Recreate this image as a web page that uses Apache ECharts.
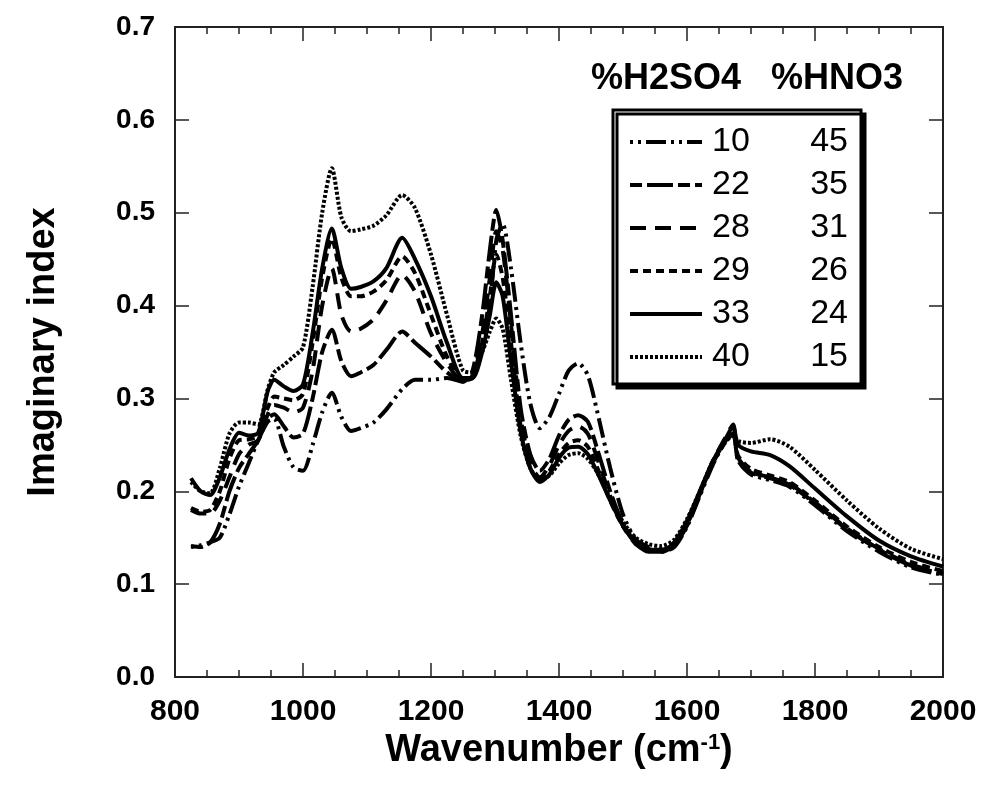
<!DOCTYPE html>
<html><head><meta charset="utf-8">
<script src="https://cdn.jsdelivr.net/npm/echarts@6/dist/echarts.min.js"></script>
<style>html,body{margin:0;padding:0;background:#fff}#c{width:982px;height:791px}</style>
</head><body><div id="c"></div>
<script>
const wavenumber = [825,840,855,870,885, 900,915,930,945,955, 970,985,1000,1015,1030, 1045,1060,1075,1090,1110, 1130,1155,1175,1200,1225, 1250,1265,1280,1292,1302, 1312,1325,1340,1355,1370, 1385,1400,1415,1430,1445, 1460,1480,1500,1520,1540, 1560,1580,1600,1620,1640, 1660,1672,1680,1700,1730, 1760,1800,1850,1900,1950, 2000];
const h2so4 = [10, 22, 28, 29, 33, 40];
const hno3 = [45, 35, 31, 26, 24, 15];
const k10 = [.14,.142,.145,.15,.175, .205,.23,.255,.275,.278, .248,.226,.222,.25,.285, .306,.28,.265,.268,.274, .288,.31,.32,.32,.322, .318,.325,.36,.4,.47, .488,.44,.36,.295,.268, .28,.305,.33,.338,.325, .285,.225,.175,.148,.14, .135,.14,.162,.195,.228, .254,.262,.233,.218,.212, .205,.185,.157,.135,.118, .11];
const k22 = [.141,.14,.145,.165,.2, .225,.24,.255,.278,.283, .27,.258,.262,.3,.35, .374,.34,.324,.328,.336, .352,.372,.36,.345,.328, .318,.33,.39,.46,.503, .47,.39,.29,.24,.222, .235,.26,.277,.282,.275, .245,.2,.165,.145,.138, .135,.142,.163,.197,.23, .255,.263,.236,.221,.215, .207,.187,.159,.137,.12, .111];
const k28 = [.18,.176,.176,.19,.215, .24,.25,.255,.283,.293, .29,.285,.29,.33,.4, .44,.39,.372,.375,.385, .405,.433,.415,.37,.338, .318,.325,.37,.43,.48, .46,.38,.28,.23,.215, .228,.25,.265,.27,.262, .235,.195,.163,.143,.137, .137,.143,.164,.198,.232, .258,.272,.232,.22,.214, .208,.188,.16,.138,.121, .112];
const k29 = [.182,.178,.18,.2,.235, .255,.256,.26,.29,.302, .3,.298,.305,.36,.43, .472,.43,.41,.41,.415, .427,.453,.435,.39,.345, .32,.322,.36,.41,.455, .43,.36,.27,.225,.212, .222,.24,.252,.255,.248, .225,.19,.162,.145,.138, .136,.143,.165,.198,.23, .253,.262,.238,.224,.217, .21,.19,.162,.14,.124, .114];
const k33 = [.214,.2,.196,.215,.245, .263,.26,.263,.308,.32, .313,.308,.315,.37,.44, .483,.44,.418,.42,.426, .44,.473,.45,.41,.36, .322,.322,.35,.39,.425, .41,.34,.265,.225,.21, .218,.236,.247,.248,.24, .22,.19,.163,.144,.135, .135,.145,.168,.2,.232, .256,.27,.25,.243,.239, .227,.203,.173,.147,.13, .119];
const k40 = [.21,.2,.198,.225,.262, .274,.274,.272,.31,.328, .336,.345,.355,.42,.5, .548,.495,.48,.482,.486, .497,.519,.505,.455,.39, .33,.328,.35,.372,.386, .375,.32,.26,.225,.212, .217,.23,.239,.241,.235, .22,.192,.167,.15,.143, .141,.148,.17,.2,.232, .253,.26,.254,.252,.256, .248,.223,.19,.16,.138, .127];
const seriesValues = [k10, k22, k28, k29, k33, k40];
const dashes = [[3,5,3,5,20,5], [12,5,26,5], [16,9], [8,5], 'solid', [3,2]];
const legendHeader = '%H2SO4   %HNO3';

const FONT = '"Liberation Sans", Arial, sans-serif';
const chart = echarts.init(document.getElementById('c'), null, {renderer: 'canvas'});
const series = seriesValues.map((vals, i) => ({
  name: h2so4[i] + '/' + hno3[i],
  type: 'line',
  data: wavenumber.map((w, j) => [w, vals[j]]),
  showSymbol: false,
  symbol: 'none',
  smooth: 0.25,
  lineStyle: {color: '#000', width: 4, type: dashes[i]},
  itemStyle: {color: '#000'},
  z: 3
}));
const axisLine = {show: true, onZero: false, lineStyle: {color: '#222', width: 2}};
chart.setOption({
  animation: false,
  backgroundColor: '#fff',
  title: {
    text: legendHeader, left: 586, top: 56,
    textStyle: {fontFamily: FONT, fontSize: 36, fontWeight: 'bold', color: '#000'}
  },
  grid: {left: 175, right: 39, top: 27, bottom: 114},
  legend: {
    orient: 'vertical', left: 613, top: 110,
    padding: [15, 13, 10, 15],
    itemWidth: 72, itemHeight: 14, itemGap: 9,
    backgroundColor: '#fff', borderColor: '#000', borderWidth: 3,
    shadowColor: '#000', shadowBlur: 0, shadowOffsetX: 4, shadowOffsetY: 4,
    lineStyle: {width: 4},
    itemStyle: {color: 'rgba(0,0,0,0)', opacity: 0, borderWidth: 0},
    formatter: name => { const p = name.split('/'); return '{a|' + p[0] + '}{b|' + p[1] + '}'; },
    textStyle: {
      fontFamily: FONT, fontSize: 34, color: '#000',
      rich: {
        a: {fontFamily: FONT, fontSize: 34, width: 66, padding: [0, 0, 0, 5], align: 'left'},
        b: {fontFamily: FONT, fontSize: 34, width: 70, align: 'right'}
      }
    },
    data: series.map(s => s.name)
  },
  xAxis: [{
    type: 'value', min: 800, max: 2000, interval: 200, position: 'bottom',
    name: '{a|Wavenumber (cm}{s|-1}{a|)}', nameLocation: 'middle', nameGap: 46,
    nameTextStyle: {rich: {
      a: {fontFamily: FONT, fontSize: 38, fontWeight: 'bold', color: '#000'},
      s: {fontFamily: FONT, fontSize: 22, fontWeight: 'bold', color: '#000', verticalAlign: 'top', padding: [0, 0, 16, 0]}
    }},
    axisLine: axisLine,
    axisTick: {show: true, inside: true, length: 14, lineStyle: {color: '#222', width: 1.5}},
    minorTick: {show: true, splitNumber: 4, length: 7, lineStyle: {color: '#222', width: 1.5}},
    axisLabel: {fontFamily: FONT, fontSize: 30, fontWeight: 'bold', color: '#000', margin: 20,
      formatter: v => String(v)},
    splitLine: {show: false}, minorSplitLine: {show: false}
  }, {
    type: 'value', min: 800, max: 2000, interval: 200, position: 'top',
    axisLine: axisLine,
    axisTick: {show: true, inside: true, length: 14, lineStyle: {color: '#222', width: 1.5}},
    minorTick: {show: true, splitNumber: 4, length: 7, lineStyle: {color: '#222', width: 1.5}},
    axisLabel: {show: false}, splitLine: {show: false}
  }],
  yAxis: [{
    type: 'value', min: 0, max: 0.7, interval: 0.1, position: 'left',
    name: 'Imaginary index', nameLocation: 'middle', nameGap: 112,
    nameTextStyle: {fontFamily: FONT, fontSize: 38, fontWeight: 'bold', color: '#000'},
    axisLine: axisLine,
    axisTick: {show: true, inside: true, length: 14, lineStyle: {color: '#222', width: 1.5}},
    axisLabel: {fontFamily: FONT, fontSize: 28, fontWeight: 'bold', color: '#000', margin: 20,
      formatter: v => v.toFixed(1)},
    splitLine: {show: false}
  }, {
    type: 'value', min: 0, max: 0.7, interval: 0.1, position: 'right',
    axisLine: axisLine,
    axisTick: {show: true, inside: true, length: 14, lineStyle: {color: '#222', width: 1.5}},
    axisLabel: {show: false}, splitLine: {show: false}
  }],
  series: series
});
</script></body></html>
